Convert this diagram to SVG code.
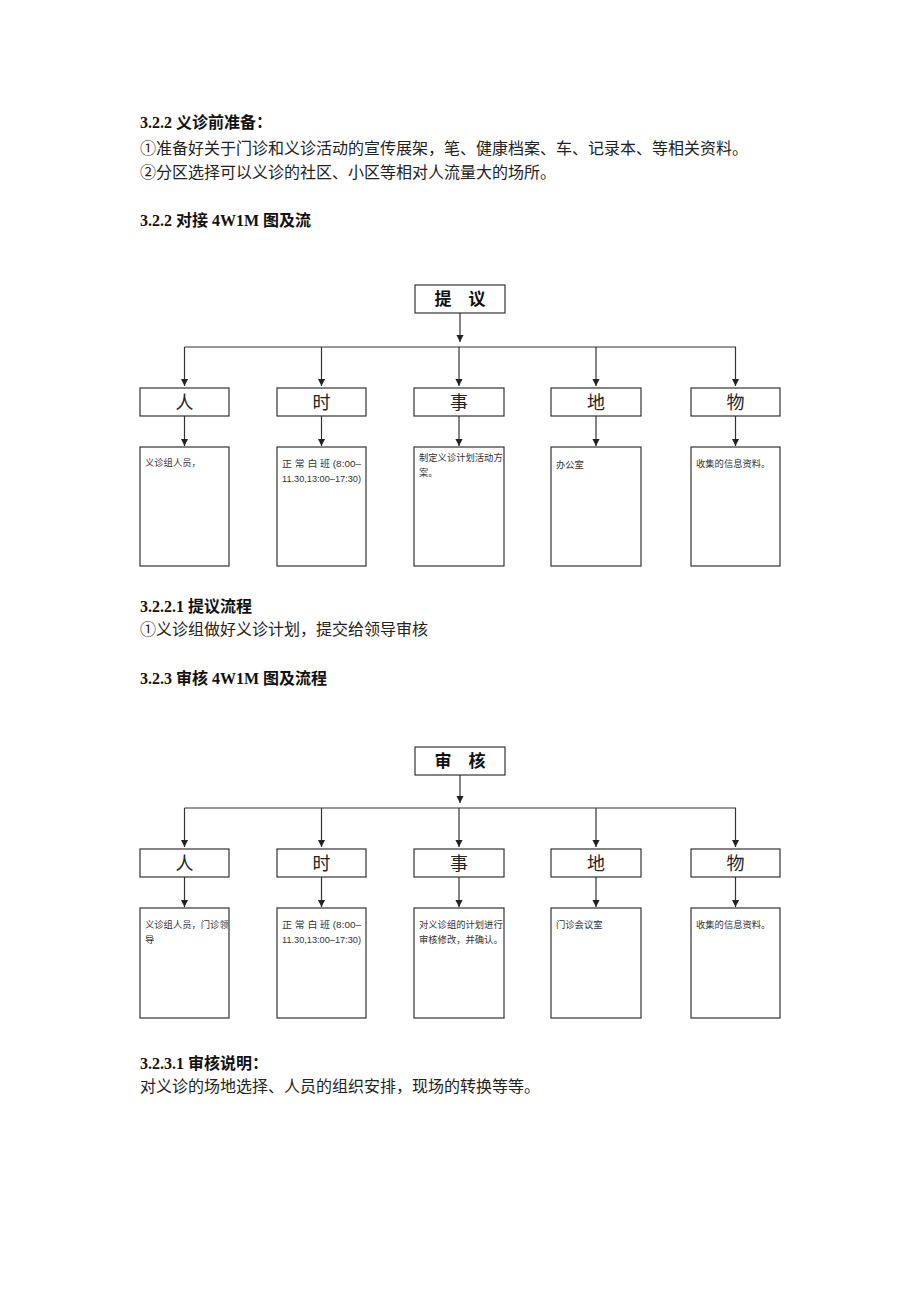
<svg xmlns="http://www.w3.org/2000/svg" width="920" height="1302" viewBox="0 0 920 1302">
<defs>
<marker id="ad" markerUnits="userSpaceOnUse" markerWidth="8" markerHeight="9" refX="4.5" refY="8" orient="0" viewBox="0 0 9 9">
<path d="M0.5,0 L8.5,0 L4.5,8 Z" fill="#222"/>
</marker>
</defs>
<style>
.bg{fill:#fff}
.h{font-family:"Liberation Serif","Noto Sans CJK SC",serif;font-size:16px;font-weight:bold;fill:#111}
.b{font-family:"Liberation Serif","Noto Sans CJK SC",serif;font-size:16px;fill:#222}
.box{fill:#fff;stroke:#333;stroke-width:1.2}
.top{font-family:"Liberation Sans","Noto Sans CJK SC",sans-serif;font-size:17px;font-weight:bold;fill:#111;text-anchor:middle}
.lab{font-family:"Liberation Sans","Noto Sans CJK SC",sans-serif;font-size:18px;fill:#222;text-anchor:middle}
.d{font-family:"Liberation Sans","Noto Sans CJK SC",sans-serif;font-size:9.3px;fill:#333}
.c{fill:none;stroke:#333;stroke-width:1.2}
</style>
<rect class="bg" x="0" y="0" width="920" height="1302"/>

<g id="text-top">
<text class="h" x="140" y="128">3.2.2 义诊前准备：</text>
<text class="b" x="140" y="154">①准备好关于门诊和义诊活动的宣传展架，笔、健康档案、车、记录本、等相关资料。</text>
<text class="b" x="140" y="178">②分区选择可以义诊的社区、小区等相对人流量大的场所。</text>
<text class="h" x="140" y="226">3.2.2 对接 4W1M 图及流</text>
</g>

<!-- Diagram 1 -->
<g id="d1-connectors">
<line class="c" x1="460" y1="313" x2="460" y2="342" marker-end="url(#ad)"/>
<polyline class="c" points="184.5,347 736,347"/>
<line class="c" x1="184.5" y1="347" x2="184.5" y2="386" marker-end="url(#ad)"/>
<line class="c" x1="321.5" y1="347" x2="321.5" y2="386" marker-end="url(#ad)"/>
<line class="c" x1="459" y1="347" x2="459" y2="386" marker-end="url(#ad)"/>
<line class="c" x1="596" y1="347" x2="596" y2="386" marker-end="url(#ad)"/>
<line class="c" x1="735.5" y1="347" x2="735.5" y2="386" marker-end="url(#ad)"/>
<line class="c" x1="184.5" y1="416" x2="184.5" y2="446" marker-end="url(#ad)"/>
<line class="c" x1="321.5" y1="416" x2="321.5" y2="446" marker-end="url(#ad)"/>
<line class="c" x1="459" y1="416" x2="459" y2="446" marker-end="url(#ad)"/>
<line class="c" x1="596" y1="416" x2="596" y2="446" marker-end="url(#ad)"/>
<line class="c" x1="735.5" y1="416" x2="735.5" y2="446" marker-end="url(#ad)"/>
</g>
<g id="d1-top"><rect class="box" x="415" y="285" width="90" height="28"/><text class="top" x="460" y="305">提　议</text></g>
<g id="d1-ren"><rect class="box" x="140" y="388" width="89" height="28"/><text class="lab" x="184.5" y="409">人</text></g>
<g id="d1-shi"><rect class="box" x="277" y="388" width="89" height="28"/><text class="lab" x="321.5" y="409">时</text></g>
<g id="d1-shi2"><rect class="box" x="414" y="388" width="90" height="28"/><text class="lab" x="459" y="409">事</text></g>
<g id="d1-di"><rect class="box" x="551" y="388" width="90" height="28"/><text class="lab" x="596" y="409">地</text></g>
<g id="d1-wu"><rect class="box" x="691" y="388" width="89" height="28"/><text class="lab" x="735.5" y="409">物</text></g>
<g id="d1-ren-d"><rect class="box" x="140" y="447" width="89" height="119"/><text class="d" x="145" y="466">义诊组人员，</text></g>
<g id="d1-shi-d"><rect class="box" x="277" y="447" width="89" height="119"/>
<text class="d" x="282" y="467" textLength="79" lengthAdjust="spacingAndGlyphs">正 常 白 班 (8:00–</text>
<text class="d" x="282" y="482" textLength="79" lengthAdjust="spacingAndGlyphs">11.30,13:00–17:30)</text></g>
<g id="d1-shi2-d"><rect class="box" x="414" y="447" width="90" height="119"/>
<text class="d" x="419" y="461">制定义诊计划活动方</text><text class="d" x="419" y="476">案。</text></g>
<g id="d1-di-d"><rect class="box" x="551" y="447" width="90" height="119"/><text class="d" x="556" y="468">办公室</text></g>
<g id="d1-wu-d"><rect class="box" x="691" y="447" width="89" height="119"/><text class="d" x="696" y="467">收集的信息资料。</text></g>

<g id="text-mid">
<text class="h" x="140" y="612">3.2.2.1 提议流程</text>
<text class="b" x="140" y="635">①义诊组做好义诊计划，提交给领导审核</text>
<text class="h" x="140" y="684">3.2.3 审核 4W1M 图及流程</text>
</g>

<!-- Diagram 2 -->
<g id="d2-connectors">
<line class="c" x1="460" y1="775" x2="460" y2="803" marker-end="url(#ad)"/>
<polyline class="c" points="184.5,808 736,808"/>
<line class="c" x1="184.5" y1="808" x2="184.5" y2="847" marker-end="url(#ad)"/>
<line class="c" x1="321.5" y1="808" x2="321.5" y2="847" marker-end="url(#ad)"/>
<line class="c" x1="459" y1="808" x2="459" y2="847" marker-end="url(#ad)"/>
<line class="c" x1="596" y1="808" x2="596" y2="847" marker-end="url(#ad)"/>
<line class="c" x1="735.5" y1="808" x2="735.5" y2="847" marker-end="url(#ad)"/>
<line class="c" x1="184.5" y1="877" x2="184.5" y2="907" marker-end="url(#ad)"/>
<line class="c" x1="321.5" y1="877" x2="321.5" y2="907" marker-end="url(#ad)"/>
<line class="c" x1="459" y1="877" x2="459" y2="907" marker-end="url(#ad)"/>
<line class="c" x1="596" y1="877" x2="596" y2="907" marker-end="url(#ad)"/>
<line class="c" x1="735.5" y1="877" x2="735.5" y2="907" marker-end="url(#ad)"/>
</g>
<g id="d2-top"><rect class="box" x="415" y="747" width="90" height="28"/><text class="top" x="460" y="767">审　核</text></g>
<g id="d2-ren"><rect class="box" x="140" y="849" width="89" height="28"/><text class="lab" x="184.5" y="870">人</text></g>
<g id="d2-shi"><rect class="box" x="277" y="849" width="89" height="28"/><text class="lab" x="321.5" y="870">时</text></g>
<g id="d2-shi2"><rect class="box" x="414" y="849" width="90" height="28"/><text class="lab" x="459" y="870">事</text></g>
<g id="d2-di"><rect class="box" x="551" y="849" width="90" height="28"/><text class="lab" x="596" y="870">地</text></g>
<g id="d2-wu"><rect class="box" x="691" y="849" width="89" height="28"/><text class="lab" x="735.5" y="870">物</text></g>
<g id="d2-ren-d"><rect class="box" x="140" y="908" width="89" height="110"/>
<text class="d" x="145" y="928">义诊组人员，门诊领</text><text class="d" x="145" y="943">导</text></g>
<g id="d2-shi-d"><rect class="box" x="277" y="908" width="89" height="110"/>
<text class="d" x="282" y="928" textLength="79" lengthAdjust="spacingAndGlyphs">正 常 白 班 (8:00–</text>
<text class="d" x="282" y="943" textLength="79" lengthAdjust="spacingAndGlyphs">11.30,13:00–17:30)</text></g>
<g id="d2-shi2-d"><rect class="box" x="414" y="908" width="90" height="110"/>
<text class="d" x="419" y="928">对义诊组的计划进行</text><text class="d" x="419" y="943">审核修改，并确认。</text></g>
<g id="d2-di-d"><rect class="box" x="551" y="908" width="90" height="110"/><text class="d" x="556" y="928">门诊会议室</text></g>
<g id="d2-wu-d"><rect class="box" x="691" y="908" width="89" height="110"/><text class="d" x="696" y="928">收集的信息资料。</text></g>

<g id="text-bottom">
<text class="h" x="140" y="1069">3.2.3.1 审核说明：</text>
<text class="b" x="140" y="1092">对义诊的场地选择、人员的组织安排，现场的转换等等。</text>
</g>
</svg>
